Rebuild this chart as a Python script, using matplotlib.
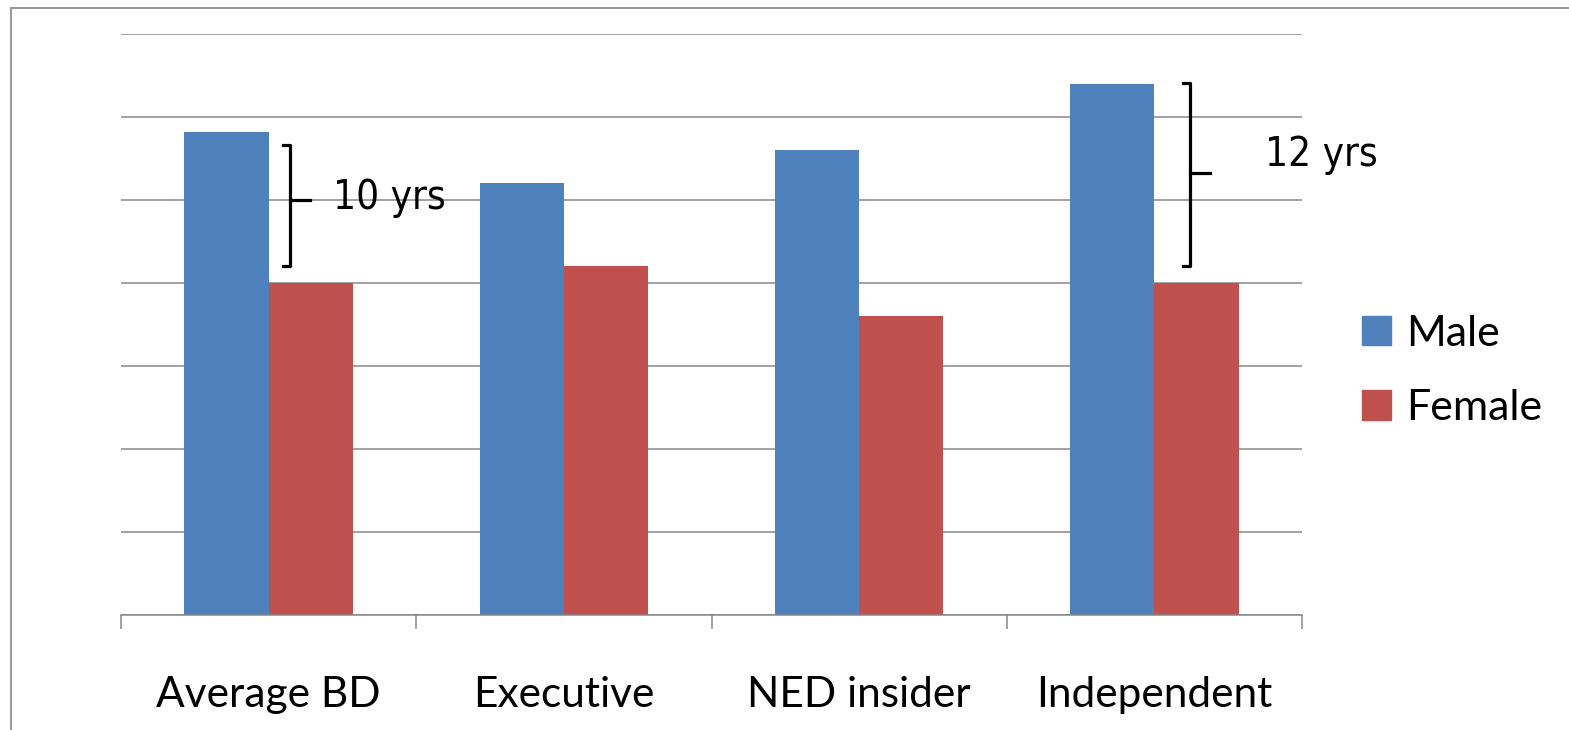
import matplotlib.pyplot as plt
from matplotlib.lines import Line2D
from matplotlib.patches import Patch

categories = ["Average BD", "Executive", "NED insider", "Independent"]
male = [29.1, 26.0, 28.0, 32.0]
female = [20.0, 21.0, 18.0, 20.0]
series = ["Male", "Female"]
colors = ["#4F81BD", "#C0504D"]

# gap brackets: (label, x, y bottom, y top, y of tick, text x, text y)
brackets = [
    ("10 yrs", 0.072, 21.0, 28.3, 25.0, 0.218, 25.1),
    ("12 yrs", 3.121, 21.0, 32.05, 26.6, 3.375, 27.7),
]

W, H, DPI = 1569, 730, 100
fig = plt.figure(figsize=(W / DPI, H / DPI), dpi=DPI)
ax = fig.add_axes([121 / W, 1 - 615 / H, (1302 - 121) / W, (615 - 34) / H])

width = 0.285
x = range(len(categories))
ax.bar([i - width / 2 for i in x], male, width, color=colors[0], zorder=3)
ax.bar([i + width / 2 for i in x], female, width, color=colors[1], zorder=3)

ax.set_xlim(-0.5, len(categories) - 0.5)
ax.set_ylim(0, 35)
ax.set_yticks(range(0, 36, 5))
ax.yaxis.grid(True, color="#878787", lw=1.1, zorder=0)
ax.tick_params(axis="y", length=0, labelleft=False)
for s in ["left", "right", "top"]:
    ax.spines[s].set_visible(False)
ax.spines["bottom"].set_color("#878787")
ax.spines["bottom"].set_linewidth(1.1)
ax.spines["bottom"].set_zorder(4)

ax.set_xticks([i - 0.5 for i in range(len(categories) + 1)])
ax.tick_params(axis="x", which="major", length=10, width=1.1, color="#878787",
               labelbottom=False)
ax.set_xticks(list(x), categories, minor=True)
ax.tick_params(axis="x", which="minor", length=0, pad=44, labelsize=30.5)
for lbl in ax.get_xticklabels(minor=True):
    lbl.set_fontfamily("Lato")

for text, bx, y0, y1, ym, tx, ty in brackets:
    hook = 0.024
    ax.plot([bx - hook, bx, bx, bx - hook], [y1, y1, y0, y0], color="black",
            lw=2.3, solid_joinstyle="round", zorder=5, clip_on=False)
    ax.plot([bx, bx + 0.067], [ym, ym], color="black", lw=2.3, zorder=5)
    ax.text(tx, ty, text, fontsize=29, family="DejaVu Sans", stretch="condensed",
            va="center", ha="left", zorder=6)

handles = [Patch(color=c) for c in colors]
fig.legend(handles, series, loc="center left",
           bbox_to_anchor=(1362 / W, 1 - 371 / H), frameon=False,
           prop={"family": "Lato", "size": 31}, handlelength=0.68,
           handleheight=0.68, handletextpad=0.35, labelspacing=0.85,
           borderpad=0, borderaxespad=0)

# outer chart frame
fig.add_artist(Line2D([11 / W, 11 / W], [0, 1 - 8 / H], color="#9A9A9A", lw=1.5))
fig.add_artist(Line2D([11 / W, 1], [1 - 8 / H, 1 - 8 / H], color="#9A9A9A", lw=1.5))

fig.savefig("out.png", dpi=DPI)
